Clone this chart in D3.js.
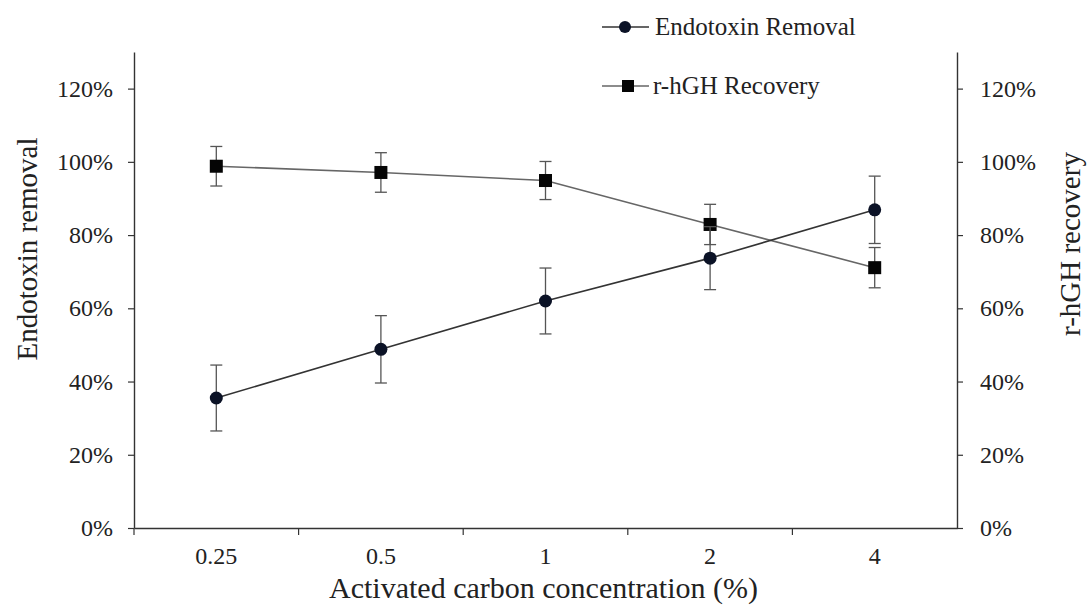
<!DOCTYPE html>
<html>
<head>
<meta charset="utf-8">
<script src="https://cdn.jsdelivr.net/npm/d3@7"></script>
<style>
  body { margin: 0; background: #fff; }
  text { font-family: "Liberation Serif", "Times New Roman", serif; fill: #222; }
</style>
</head>
<body>
<script>
var categories = ["0.25", "0.5", "1", "2", "4"];
var endotoxin = [35.5, 48.8, 62.0, 73.7, 86.9];
var endotoxinErr = [9.0, 9.2, 9.0, 8.6, 9.2];
var recovery = [98.8, 97.1, 94.9, 82.9, 71.1];
var recoveryErr = [5.4, 5.4, 5.2, 5.5, 5.5];
var yTicks = [0, 20, 40, 60, 80, 100, 120];

var W = 1087, H = 611;
var margin = { top: 52, right: 130, bottom: 83, left: 134 },
  width = W - margin.left - margin.right,
  height = H - margin.top - margin.bottom;

var svg = d3.select("body").append("svg")
  .attr("width", W)
  .attr("height", H)
  .append("g")
  .attr("transform", "translate(" + margin.left + "," + margin.top + ")");

var x = d3.scaleBand()
  .domain(categories)
  .range([0, width])
  .padding(0);

var y = d3.scaleLinear()
  .domain([0, 130])
  .range([height, 0]);

var fmt = function (d) { return d + "%"; };

// left axis
var yl = svg.append("g")
  .call(d3.axisLeft(y).tickValues(yTicks).tickFormat(fmt).tickSizeInner(6).tickSizeOuter(0).tickPadding(15));
// right axis
var yr = svg.append("g")
  .attr("transform", "translate(" + width + ",0)")
  .call(d3.axisRight(y).tickValues(yTicks).tickFormat(fmt).tickSizeInner(6).tickSizeOuter(0).tickPadding(17));
// bottom axis: labels at band centers, ticks at band edges
var xa = svg.append("g")
  .attr("transform", "translate(0," + height + ")")
  .call(d3.axisBottom(x).tickSize(0).tickPadding(19));
xa.selectAll(".tick").append("line")
  .attr("x1", -x.bandwidth() / 2)
  .attr("x2", -x.bandwidth() / 2)
  .attr("y1", 0)
  .attr("y2", 7);

[yl, yr, xa].forEach(function (g) {
  g.selectAll(".domain").attr("stroke", "#333").attr("stroke-width", 1.4);
  g.selectAll(".tick line").attr("stroke", "#333").attr("stroke-width", 1.2);
  g.selectAll("text").attr("font-size", 24).attr("fill", "#222")
    .style("font-family", "'Liberation Serif', serif");
});

// axis titles
svg.append("text")
  .attr("transform", "translate(" + (-97) + "," + (249 - margin.top) + ") rotate(-90)")
  .attr("text-anchor", "middle")
  .attr("font-size", 29)
  .text("Endotoxin  removal");
svg.append("text")
  .attr("transform", "translate(" + (1080 - margin.left) + "," + (244 - margin.top) + ") rotate(-90)")
  .attr("text-anchor", "middle")
  .attr("font-size", 29)
  .text("r-hGH recovery");
svg.append("text")
  .attr("x", width / 2 - 2)
  .attr("y", height + 70)
  .attr("text-anchor", "middle")
  .attr("font-size", 30)
  .text("Activated carbon concentration  (%)");

var cx = function (i) { return x(categories[i]) + x.bandwidth() / 2; };

function drawSeries(vals, errs, lineColor, marker) {
  var line = d3.line()
    .x(function (d, i) { return cx(i); })
    .y(function (d) { return y(d); });
  svg.append("path")
    .datum(vals)
    .attr("d", line)
    .attr("fill", "none")
    .attr("stroke", lineColor)
    .attr("stroke-width", 1.6);

  var eb = svg.append("g").attr("stroke", "#555").attr("stroke-width", 1.3);
  vals.forEach(function (v, i) {
    var px = cx(i), hi = y(v + errs[i]), lo = y(v - errs[i]);
    eb.append("line").attr("x1", px).attr("x2", px).attr("y1", hi).attr("y2", lo);
    eb.append("line").attr("x1", px - 6).attr("x2", px + 6).attr("y1", hi).attr("y2", hi);
    eb.append("line").attr("x1", px - 6).attr("x2", px + 6).attr("y1", lo).attr("y2", lo);
  });

  vals.forEach(function (v, i) {
    if (marker === "circle") {
      svg.append("circle").attr("cx", cx(i)).attr("cy", y(v)).attr("r", 6.5).attr("fill", "#0b1226");
    } else {
      svg.append("rect").attr("x", cx(i) - 6.5).attr("y", y(v) - 6.5)
        .attr("width", 13).attr("height", 13).attr("fill", "#050505");
    }
  });
}

drawSeries(recovery, recoveryErr, "#666", "square");
drawSeries(endotoxin, endotoxinErr, "#333", "circle");

// legend
var legend = d3.select("svg").append("g");
var items = [
  { label: "Endotoxin Removal", marker: "circle", color: "#333", y: 27, tx: 655 },
  { label: "r-hGH Recovery", marker: "square", color: "#666", y: 86, tx: 653 }
];
items.forEach(function (it) {
  legend.append("line").attr("x1", 602).attr("x2", 649).attr("y1", it.y).attr("y2", it.y)
    .attr("stroke", it.color).attr("stroke-width", 1.6);
  if (it.marker === "circle") {
    legend.append("circle").attr("cx", 625).attr("cy", it.y).attr("r", 6).attr("fill", "#0b1226");
  } else {
    legend.append("rect").attr("x", 622).attr("y", it.y - 6).attr("width", 12).attr("height", 12).attr("fill", "#050505");
  }
  legend.append("text").attr("x", it.tx).attr("y", it.y + 8).attr("font-size", 25).text(it.label);
});
</script>
</body>
</html>
